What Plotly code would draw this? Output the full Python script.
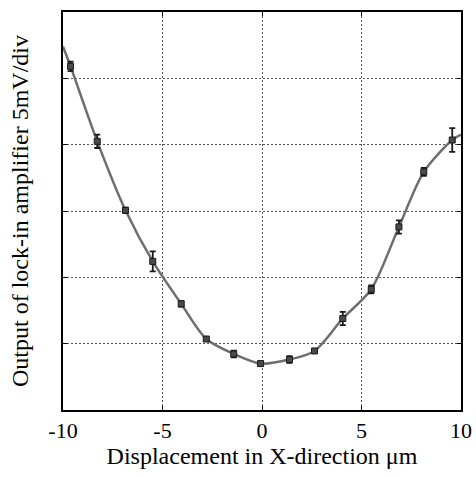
import plotly.graph_objects as go

# measured points (x in um, y in divisions of 5 mV)
x_pts = [-9.62, -8.28, -6.86, -5.49, -4.06, -2.80, -1.42, -0.07, 1.38, 2.64, 4.06, 5.49, 6.88, 8.13, 9.56]
y_pts = [5.18, 4.05, 3.01, 2.24, 1.60, 1.07, 0.845, 0.70, 0.76, 0.89, 1.38, 1.82, 2.76, 3.59, 4.07]
y_err = [0.07, 0.10, 0.04, 0.15, 0.04, 0.03, 0.05, 0.03, 0.05, 0.03, 0.10, 0.06, 0.10, 0.06, 0.18]

# fitted curve (includes ends at the frame)
curve_x = [-10.0] + x_pts + [10.0]
curve_y = [5.48] + y_pts + [4.15]

x_ticks = [-10, -5, 0, 5, 10]
x_tick_labels = ["-10", "-5", "0", "5", "10"]

fig = go.Figure()
fig.add_trace(go.Scatter(
    x=curve_x, y=curve_y, mode="lines",
    line=dict(color="#6e6e6e", width=2.5, shape="spline", smoothing=0.8),
    hoverinfo="skip", showlegend=False))
fig.add_trace(go.Scatter(
    x=x_pts, y=y_pts, mode="markers",
    marker=dict(symbol="square", size=6, color="#4a4a4a", line=dict(color="#1a1a1a", width=1)),
    error_y=dict(type="data", array=y_err, visible=True, color="#1a1a1a", thickness=1.8, width=3),
    showlegend=False))

font_family = "Liberation Serif, Times New Roman, serif"
fig.update_layout(
    width=476, height=477,
    margin=dict(l=63, r=15, t=12, b=67),
    paper_bgcolor="white", plot_bgcolor="white",
    font=dict(family=font_family, color="black", size=22),
)
fig.update_xaxes(
    range=[-10, 10], tickvals=x_ticks, ticktext=x_tick_labels,
    showgrid=True, gridcolor="#555555", griddash="2px,2px", gridwidth=1,
    showline=True, linecolor="black", linewidth=2, mirror="ticks",
    ticks="inside", ticklen=4, tickcolor="black",
    zeroline=False, tickfont=dict(size=22), automargin=False,
    title=dict(text="Displacement in X-direction μm", font=dict(size=24), standoff=4),
)
fig.update_yaxes(
    range=[0, 6], dtick=1, showticklabels=False,
    showgrid=True, gridcolor="#555555", griddash="2px,2px", gridwidth=1,
    showline=True, linecolor="black", linewidth=2, mirror="ticks",
    ticks="inside", ticklen=4, tickcolor="black",
    zeroline=False, automargin=False,
    title=dict(text="Output of lock-in amplifier 5mV/div", font=dict(size=24), standoff=26),
)
# remove the browser's default 8px body margin so the figure fills the window exactly
fig.write_html(
    "out.html",
    config={"displayModeBar": False},
    post_script="document.body.style.margin='0';document.body.style.overflow='hidden';",
)
